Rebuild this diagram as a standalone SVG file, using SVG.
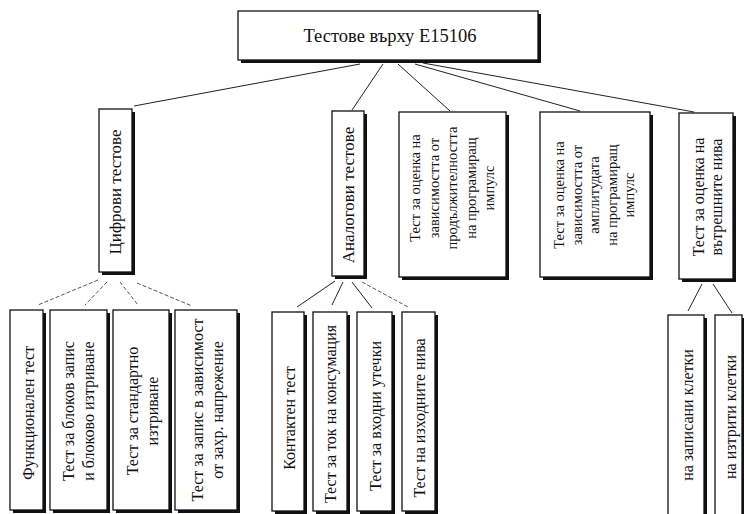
<svg xmlns="http://www.w3.org/2000/svg" width="744" height="514" viewBox="0 0 744 514">
<style>
.sh{fill:#111}
.bx{fill:#fff;stroke:#111;stroke-width:1.3}
.t{font-family:"Liberation Serif","Times New Roman",serif;font-size:16px;fill:#111;text-anchor:middle;dominant-baseline:central}
.l2{font-size:17px}
.sm{font-size:14.5px}
.rt{font-family:"Liberation Serif","Times New Roman",serif;font-size:18.5px;fill:#111;text-anchor:middle;dominant-baseline:central}
.c{stroke:#222;stroke-width:1;fill:none}
.d{stroke:#555;stroke-width:1;fill:none;stroke-dasharray:4 2}
</style>
<rect width="744" height="514" fill="#fff"/>
<g id="connectors">
<line class="c" x1="360" y1="64" x2="134" y2="106"/>
<line class="c" x1="383" y1="64" x2="352" y2="110"/>
<line class="c" x1="398" y1="64" x2="450" y2="111"/>
<line class="c" x1="415" y1="64" x2="580" y2="111"/>
<line class="c" x1="423" y1="63" x2="694" y2="112"/>
<line class="d" x1="98" y1="280" x2="38" y2="305"/>
<line class="d" x1="107" y1="282" x2="85" y2="305"/>
<line class="d" x1="120" y1="282" x2="138" y2="305"/>
<line class="d" x1="137" y1="283" x2="192" y2="306"/>
<line class="c" x1="335" y1="281" x2="297" y2="307"/>
<line class="c" x1="343" y1="282" x2="332" y2="305"/>
<line class="c" x1="352" y1="282" x2="372" y2="308"/>
<line class="d" x1="362" y1="282" x2="408" y2="307"/>
<line class="c" x1="702" y1="284" x2="688" y2="311"/>
<line class="c" x1="713" y1="284" x2="732" y2="313"/>
</g>
<g id="root">
<rect class="sh" x="241" y="14" width="300" height="49"/>
<rect class="bx" x="238" y="11" width="300" height="49"/>
<text class="rt" x="390" y="36">Тестове върху E15106</text>
</g>
<g id="digital">
<rect class="sh" x="102" y="112" width="33" height="163"/>
<rect class="bx" x="99" y="109" width="33" height="163"/>
<text class="t l2" transform="translate(115.5,192) rotate(-90)">Цифрови тестове</text>
</g>
<g id="analog">
<rect class="sh" x="335" y="114" width="32" height="165"/>
<rect class="bx" x="332" y="111" width="32" height="165"/>
<text class="t l2" transform="translate(348,195) rotate(-90)">Аналогови тестове</text>
</g>
<g id="duration">
<rect class="sh" x="402" y="115" width="107" height="165"/>
<rect class="bx" x="399" y="112" width="107" height="165"/>
<text class="t sm" transform="translate(452,188) rotate(-90)"><tspan x="0" dy="-37">Тест за оценка на</tspan><tspan x="0" dy="18.5">зависимостта от</tspan><tspan x="0" dy="18.5">продължителността</tspan><tspan x="0" dy="18.5">на програмиращ</tspan><tspan x="0" dy="18.5">импулс</tspan></text>
</g>
<g id="amplitude">
<rect class="sh" x="543" y="115" width="110" height="165"/>
<rect class="bx" x="540" y="112" width="110" height="165"/>
<text class="t sm" transform="translate(594,195) rotate(-90)"><tspan x="0" dy="-35">Тест за оценка на</tspan><tspan x="0" dy="17.5">зависимостта от</tspan><tspan x="0" dy="17.5">амплитудата</tspan><tspan x="0" dy="17.5">на програмиращ</tspan><tspan x="0" dy="17.5">импулс</tspan></text>
</g>
<g id="levels">
<rect class="sh" x="682" y="116" width="54" height="166"/>
<rect class="bx" x="679" y="113" width="54" height="166"/>
<text class="t" transform="translate(707,197) rotate(-90)"><tspan x="0" dy="-9">Тест за оценка на</tspan><tspan x="0" dy="18">вътрешните нива</tspan></text>
</g>
<g id="functional">
<rect class="sh" x="13" y="313" width="33" height="200"/>
<rect class="bx" x="10" y="310" width="33" height="200"/>
<text class="t" transform="translate(28,413) rotate(-90)">Функционален тест</text>
</g>
<g id="block">
<rect class="sh" x="53" y="313" width="57" height="200"/>
<rect class="bx" x="50" y="310" width="57" height="200"/>
<text class="t" transform="translate(78,411) rotate(-90)"><tspan x="0" dy="-10">Тест за блоков запис</tspan><tspan x="0" dy="20">и блоково изтриване</tspan></text>
</g>
<g id="standard">
<rect class="sh" x="116" y="313" width="56" height="200"/>
<rect class="bx" x="113" y="310" width="56" height="200"/>
<text class="t" transform="translate(142,411) rotate(-90)"><tspan x="0" dy="-10">Тест за стандартно</tspan><tspan x="0" dy="20">изтриване</tspan></text>
</g>
<g id="voltage">
<rect class="sh" x="178" y="313" width="62" height="200"/>
<rect class="bx" x="175" y="310" width="62" height="200"/>
<text class="t" transform="translate(207,410) rotate(-90)"><tspan x="0" dy="-10">Тест за запис в  зависимост</tspan><tspan x="0" dy="20">от захр. напрежение</tspan></text>
</g>
<g id="contact">
<rect class="sh" x="275" y="315" width="32" height="199"/>
<rect class="bx" x="272" y="312" width="32" height="199"/>
<text class="t" transform="translate(289,418) rotate(-90)">Контактен тест</text>
</g>
<g id="current">
<rect class="sh" x="316" y="315" width="34" height="199"/>
<rect class="bx" x="313" y="312" width="34" height="199"/>
<text class="t" transform="translate(330,414) rotate(-90)">Тест за ток на консумация</text>
</g>
<g id="leakage">
<rect class="sh" x="360" y="315" width="35" height="199"/>
<rect class="bx" x="357" y="312" width="35" height="199"/>
<text class="t" transform="translate(375,416) rotate(-90)">Тест за входни утечки</text>
</g>
<g id="output">
<rect class="sh" x="405" y="315" width="33" height="199"/>
<rect class="bx" x="402" y="312" width="33" height="199"/>
<text class="t" transform="translate(419,418) rotate(-90)">Тест на изходните нива</text>
</g>
<g id="written">
<rect class="sh" x="671" y="318" width="36" height="205"/>
<rect class="bx" x="668" y="315" width="36" height="205"/>
<text class="t" transform="translate(687,415) rotate(-90)">на записани клетки</text>
</g>
<g id="erased">
<rect class="sh" x="718" y="318" width="27" height="205"/>
<rect class="bx" x="715" y="315" width="27" height="205"/>
<text class="t" transform="translate(730,417) rotate(-90)">на изтрити клетки</text>
</g>
</svg>
